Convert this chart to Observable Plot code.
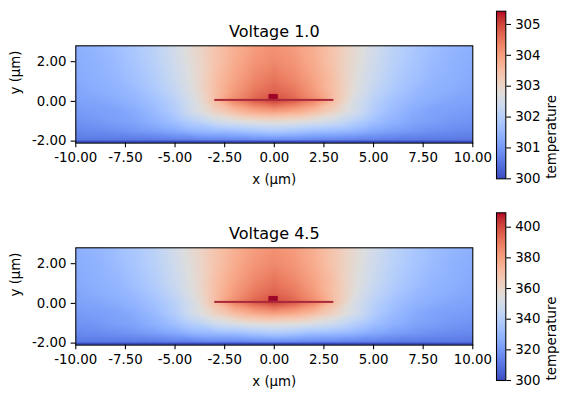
<!DOCTYPE html>
<html>
<head>
<meta charset="utf-8">
<script src="https://cdn.jsdelivr.net/npm/d3@7"></script>
<script src="https://cdn.jsdelivr.net/npm/@observablehq/plot@0.6"></script>
<style>
  html, body { margin: 0; padding: 0; background: white; }
  #fig { position: relative; width: 570px; height: 398px; background: white; overflow: hidden; }
  #fig > svg { position: absolute; }
</style>
</head>
<body>
<div id="fig"></div>
<script>
// ---- data ----
const titles = ["Voltage 1.0", "Voltage 4.5"];
const xGrid = [-10,-9,-8,-7,-6,-5,-4,-3,-2,-1,0,1,2,3,4,5,6,7,8,9,10];
const yGrid = [2.8, 2.0, 1.0, 0.5, 0.0, -0.5, -1.0, -1.5, -2.0];
const xTicks = [-10, -7.5, -5, -2.5, 0, 2.5, 5, 7.5, 10];
const yTicks = [-2, 0, 2];
const xDomain = [-10, 10];
const yDomain = [-2.1, 2.8];
const tempRange1 = [300, 305.43];
const tempRange2 = [300, 409.4];
const cbTicks1 = [300, 301, 302, 303, 304, 305];
const cbTicks2 = [300, 320, 340, 360, 380, 400];

// temperature (K), rows follow yGrid, columns follow xGrid
const temp1 = [
  [301.36,301.47,301.63,301.85,302.12,302.50,302.93,303.37,303.75,304.02,304.18,304.02,303.75,303.37,302.93,302.50,302.12,301.85,301.63,301.47,301.36],
  [301.30,301.41,301.57,301.79,302.06,302.44,302.88,303.37,303.80,304.13,304.29,304.13,303.80,303.37,302.88,302.44,302.06,301.79,301.57,301.41,301.30],
  [301.25,301.36,301.47,301.68,301.95,302.33,302.82,303.48,303.96,304.34,304.56,304.34,303.96,303.48,302.82,302.33,301.95,301.68,301.47,301.36,301.25],
  [301.19,301.30,301.41,301.57,301.85,302.23,302.77,303.48,304.07,304.51,304.72,304.51,304.07,303.48,302.77,302.23,301.85,301.57,301.41,301.30,301.19],
  [301.14,301.19,301.30,301.47,301.68,302.06,302.61,303.48,304.29,304.72,305.00,304.72,304.29,303.48,302.61,302.06,301.68,301.47,301.30,301.19,301.14],
  [301.03,301.09,301.14,301.30,301.57,301.95,302.55,303.10,303.53,303.86,304.02,303.86,303.53,303.10,302.55,301.95,301.57,301.30,301.14,301.09,301.03],
  [300.92,300.98,301.09,301.19,301.41,301.68,302.06,302.44,302.66,302.82,302.88,302.82,302.66,302.44,302.06,301.68,301.41,301.19,301.09,300.98,300.92],
  [300.76,300.81,300.87,300.98,301.09,301.25,301.47,301.57,301.63,301.79,301.90,301.79,301.63,301.57,301.47,301.25,301.09,300.98,300.87,300.81,300.76],
  [300.54,300.54,300.54,300.54,300.54,300.60,300.60,300.65,300.65,300.71,300.71,300.71,300.65,300.65,300.60,300.60,300.54,300.54,300.54,300.54,300.54]
];
const temp2 = [
  [327.4,329.5,332.8,337.2,342.7,350.3,359.1,367.8,375.5,381.0,384.2,381.0,375.5,367.8,359.1,350.3,342.7,337.2,332.8,329.5,327.4],
  [326.3,328.4,331.7,336.1,341.6,349.2,358.0,367.8,376.6,383.1,386.4,383.1,376.6,367.8,358.0,349.2,341.6,336.1,331.7,328.4,326.3],
  [325.2,327.4,329.5,333.9,339.4,347.0,356.9,370.0,379.9,387.5,391.9,387.5,379.9,370.0,356.9,347.0,339.4,333.9,329.5,327.4,325.2],
  [324.1,326.3,328.4,331.7,337.2,344.9,355.8,370.0,382.1,390.8,395.2,390.8,382.1,370.0,355.8,344.9,337.2,331.7,328.4,326.3,324.1],
  [323.0,324.1,326.3,329.5,333.9,341.6,352.5,370.0,386.4,395.2,400.6,395.2,386.4,370.0,352.5,341.6,333.9,329.5,326.3,324.1,323.0],
  [320.8,321.9,323.0,326.3,331.7,339.4,351.4,362.4,371.1,377.7,381.0,377.7,371.1,362.4,351.4,339.4,331.7,326.3,323.0,321.9,320.8],
  [318.6,319.7,321.9,324.1,328.4,333.9,341.6,349.2,353.6,356.9,358.0,356.9,353.6,349.2,341.6,333.9,328.4,324.1,321.9,319.7,318.6],
  [315.3,316.4,317.5,319.7,321.9,325.2,329.5,331.7,332.8,336.1,338.3,336.1,332.8,331.7,329.5,325.2,321.9,319.7,317.5,316.4,315.3],
  [310.9,310.9,310.9,310.9,310.9,312.0,312.0,313.1,313.1,314.2,314.2,314.2,313.1,313.1,312.0,312.0,310.9,310.9,310.9,310.9,310.9]
];
// geometry (µm)
const substrate = [{x1: -10, x2: 10, y1: -2.1, y2: -2.0}];
const heaterLine = [{x1: -3, x2: 3, y1: 0.0, y2: 0.1}];
const heaterCore = [{x1: -0.27, x2: 0.2, y1: 0.1, y2: 0.35}];

// ---- style ----
const coolwarmStops = [
  "rgb(59,76,192)","rgb(68,90,204)","rgb(77,104,215)","rgb(87,117,225)","rgb(98,130,234)",
  "rgb(108,142,241)","rgb(119,154,247)","rgb(130,165,251)","rgb(141,176,254)","rgb(152,185,255)",
  "rgb(163,194,255)","rgb(174,201,253)","rgb(184,208,249)","rgb(194,213,244)","rgb(204,217,238)",
  "rgb(213,219,230)","rgb(221,221,221)","rgb(229,216,209)","rgb(236,211,197)","rgb(241,204,185)",
  "rgb(245,196,173)","rgb(247,187,160)","rgb(247,177,148)","rgb(247,166,135)","rgb(244,154,123)",
  "rgb(241,141,111)","rgb(236,127,99)","rgb(229,112,88)","rgb(222,96,77)","rgb(213,80,66)",
  "rgb(203,62,56)","rgb(192,40,47)","rgb(180,4,38)"
];
const coolwarm = d3.piecewise(d3.interpolateRgb, coolwarmStops);
const FONT = "DejaVu Sans, sans-serif";
const TICK = 4.67;
const fmt2 = d => d.toFixed(2);
const fmt0 = d => d.toFixed(0);

function gridPoints(rows) {
  const pts = [];
  yGrid.forEach((y, i) => xGrid.forEach((x, j) => pts.push({x, y, t: rows[i][j]})));
  return pts;
}

function mainPanel(title, rows, range, top) {
  const svg = Plot.plot({
    width: 480, height: 200,
    marginLeft: 75.3, marginRight: 7.7, marginTop: 45.3, marginBottom: 57.4,
    style: {fontFamily: FONT, fontSize: "13.33px", color: "black", background: "transparent", overflow: "visible"},
    x: {domain: xDomain},
    y: {domain: yDomain},
    color: {type: "linear", domain: range, interpolate: coolwarm},
    marks: [
      Plot.raster(gridPoints(rows), {x: "x", y: "y", fill: "t", interpolate: "barycentric",
        x1: xDomain[0], x2: xDomain[1], y1: yDomain[0], y2: yDomain[1]}),
      Plot.rect(substrate, {x1: "x1", x2: "x2", y1: "y1", y2: "y2", fill: () => range[0]}),
      Plot.rect(heaterLine, {x1: "x1", x2: "x2", y1: "y1", y2: "y2", fill: "#a82a3a"}),
      Plot.rect(heaterCore, {x1: "x1", x2: "x2", y1: "y1", y2: "y2", fill: "#9e0529"}),
      Plot.frame({stroke: "black", strokeWidth: 1.07}),
      Plot.axisX({ticks: xTicks, tickFormat: fmt2, tickSize: TICK, tickPadding: TICK, label: null, strokeWidth: 1.07}),
      Plot.axisY({ticks: yTicks, tickFormat: fmt2, tickSize: TICK, tickPadding: TICK, label: null, strokeWidth: 1.07}),
      Plot.text([title], {text: d => d, frameAnchor: "top", lineAnchor: "bottom", dy: -8.4, fontSize: 16, fill: "black"}),
      Plot.text(["x (µm)"], {text: d => d, frameAnchor: "bottom", lineAnchor: "bottom", dy: 40.9, fill: "black"}),
      Plot.text(["y (µm)"], {text: d => d, frameAnchor: "left", lineAnchor: "bottom", rotate: -90, dx: -55.8, fill: "black"})
    ]
  });
  svg.style.left = "0px";
  svg.style.top = top + "px";
  return svg;
}

function colorbar(range, ticks, top, mTop, mBottom) {
  const svg = Plot.plot({
    width: 100, height: 200,
    marginLeft: 26, marginRight: 64.7, marginTop: mTop, marginBottom: mBottom,
    style: {fontFamily: FONT, fontSize: "13.33px", color: "black", background: "transparent", overflow: "visible"},
    x: {domain: [0, 1], axis: null},
    y: {domain: range},
    color: {type: "linear", domain: range, interpolate: coolwarm},
    marks: [
      Plot.raster({fill: (x, y) => y, x1: 0, x2: 1, y1: range[0], y2: range[1]}),
      Plot.frame({stroke: "black", strokeWidth: 1.07}),
      Plot.axisY({anchor: "right", ticks: ticks, tickFormat: fmt0, tickSize: TICK, tickPadding: TICK, label: null, strokeWidth: 1.07}),
      Plot.text(["temperature"], {text: d => d, frameAnchor: "right", lineAnchor: "bottom", rotate: -90, dx: 50.2, fill: "black"})
    ]
  });
  svg.style.left = "470px";
  svg.style.top = top + "px";
  return svg;
}

const fig = document.getElementById("fig");
fig.appendChild(mainPanel(titles[0], temp1, tempRange1, 0));
fig.appendChild(colorbar(tempRange1, cbTicks1, 0, 10.7, 21.7));
fig.appendChild(mainPanel(titles[1], temp2, tempRange2, 202));
fig.appendChild(colorbar(tempRange2, cbTicks2, 202, 10.3, 22));
</script>
</body>
</html>
